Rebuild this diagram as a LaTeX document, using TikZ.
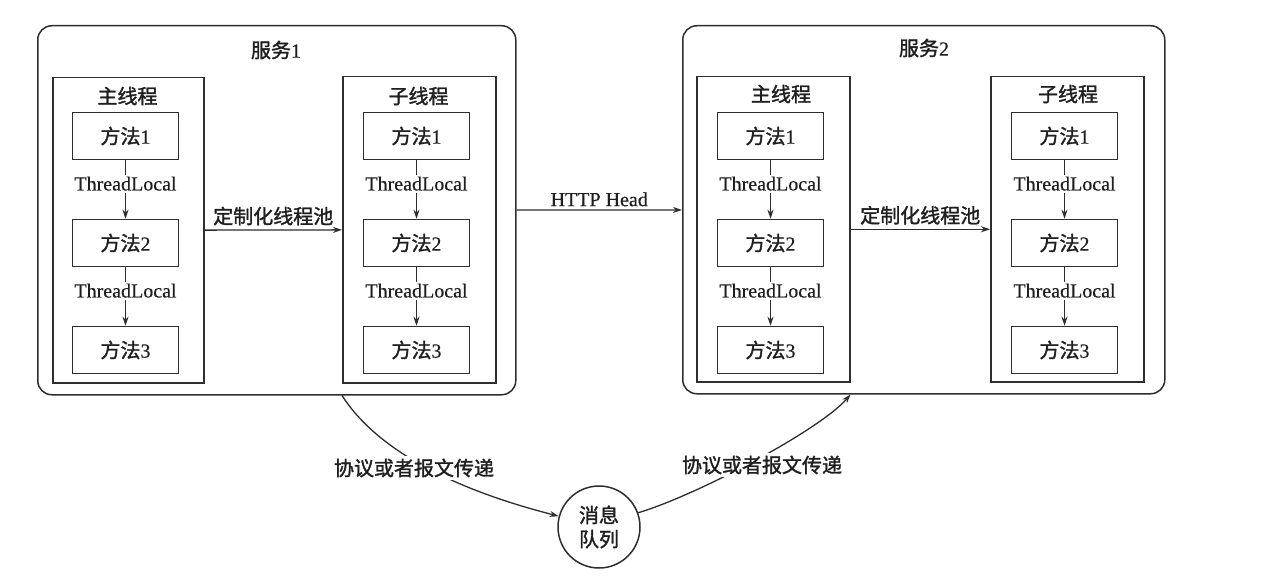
\documentclass[tikz,border=0pt]{standalone}
\usepackage{fontspec}
\setmainfont{Liberation Serif}[FakeBold=0.4]
\newfontfamily\cjk{Noto Sans CJK SC}[FakeBold=1.6]
\usetikzlibrary{arrows.meta}
\begin{document}
\begin{tikzpicture}[x=1pt,y=-1pt,
  base/.style={font=\fontsize{20}{24}\selectfont, text=black!88},
  svc/.style={draw=black!82, line width=1.5pt, rounded corners=14pt, anchor=north west, inner sep=0pt},
  thr/.style={draw=black!82, line width=1.5pt, anchor=north west, inner sep=0pt},
  meth/.style={base, draw=black!82, line width=1.5pt, minimum width=106pt, minimum height=47pt, inner sep=0pt},
  ttl/.style={base, inner sep=0pt},
  lbl/.style={base, fill=white, inner sep=2pt},
  clbl/.style={base, font=\cjk\fontsize{20}{24}\selectfont, fill=white, inner sep=3pt},
  arr/.style={draw=black!82, line width=1.3pt, -{Stealth[length=9pt,width=6pt]}},
  queue/.style={draw=black!82, line width=1.5pt, circle, minimum size=82pt, inner sep=0pt, align=center, font=\cjk\fontsize{20}{24}\selectfont, text=black!88}
]
\useasboundingbox[fill=white] (0,0) rectangle (1280,578);

% services
\node[svc, minimum width=478pt, minimum height=369pt] (s1) at (37,25) {};
\node[svc, minimum width=482pt, minimum height=368pt] (s2) at (682,25) {};
\node[ttl] (t1) at (276,50) {{\cjk 服务}1};
\node[ttl] (t2) at (924,48) {{\cjk 服务}2};

% thread boxes
\node[thr, minimum width=151pt, minimum height=305pt] (m1) at (52,77) {};
\node[thr, minimum width=153pt, minimum height=306pt] (c1) at (342,76) {};
\node[thr, minimum width=153pt, minimum height=305pt] (m2) at (696,76) {};
\node[thr, minimum width=153pt, minimum height=305pt] (c2) at (990,76) {};
\node[ttl] (tm1) at (127.5,96) {\cjk 主线程};
\node[ttl] (tc1) at (418.5,96) {\cjk 子线程};
\node[ttl] (tm2) at (781,94) {\cjk 主线程};
\node[ttl] (tc2) at (1068,94) {\cjk 子线程};

% methods
\foreach \n/\x in {ma/125.5, ca/416.5, mb/770.5, cb/1064.5}{
  \node[meth] (\n1) at (\x,136) {{\cjk 方法}1};
  \node[meth] (\n2) at (\x,243) {{\cjk 方法}2};
  \node[meth] (\n3) at (\x,350) {{\cjk 方法}3};
  \draw[arr] (\n1) -- node[lbl, pos=0.4] {ThreadLocal} (\n2);
  \draw[arr] (\n2) -- node[lbl, pos=0.4] {ThreadLocal} (\n3);
}

% horizontal arrows
\draw[arr] (m1) -- node[clbl, above, fill=none, inner sep=4pt] {定制化线程池} (c1);
\draw[arr] (m2) -- node[clbl, above, fill=none, inner sep=4pt] {定制化线程池} (c2);
\draw[arr] (s1) -- node[lbl, above, fill=none, inner sep=3pt] {HTTP Head} (s2);

% message queue
\node[queue] (q) at (599,527) {消息\\队列};
\draw[arr] (c1.west |- s1.south) .. controls +(48,75) and +(-50,-13) .. (q.165);
\draw[arr] (q.20) .. controls +(60,-18) and +(-30,35) .. (m2.east |- s2.south);
\node[clbl] (p1) at (414,468) {协议或者报文传递};
\node[clbl] (p2) at (762,465) {协议或者报文传递};
\end{tikzpicture}
\end{document}
